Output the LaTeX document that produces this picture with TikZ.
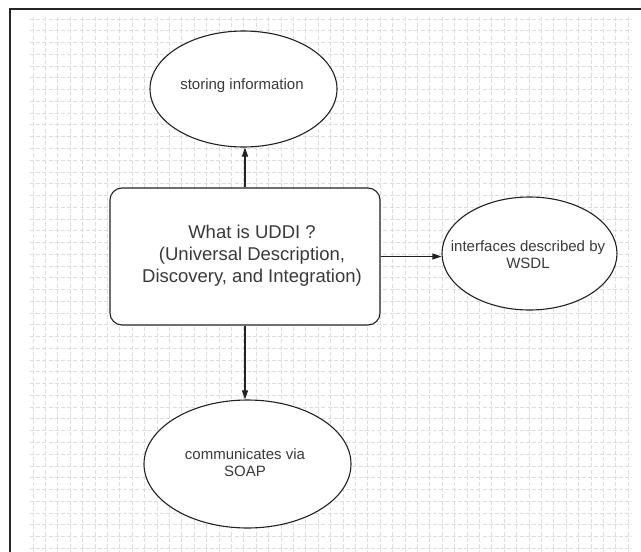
\documentclass[tikz,border=0pt]{standalone}
\usepackage{fontspec}
\setmainfont{Liberation Sans}
\usetikzlibrary{arrows.meta,shapes.geometric}
\definecolor{gridgrey}{HTML}{DDDDDD}
\definecolor{inkdark}{HTML}{222222}
\definecolor{textgrey}{HTML}{3A3A3A}
\tikzset{
  gridline/.style={draw=gridgrey, line width=0.75pt, dash pattern=on 4pt off 2.2pt},
  bubble/.style={ellipse, draw=inkdark, line width=1.1pt, fill=white, inner sep=0pt},
  bubbletext/.style={text=textgrey, font=\fontsize{15}{17}\selectfont, align=center, inner sep=0pt},
  mainbox/.style={rectangle, rounded corners=12pt, draw=inkdark, line width=1.1pt,
    fill=white, minimum width=270pt, minimum height=137pt, inner sep=0pt},
  boxtext/.style={text=textgrey, font=\fontsize{18.5}{22}\selectfont, align=center, inner sep=0pt},
  link/.style={draw=inkdark, line width=1.1pt, -{Triangle[length=9pt,width=6pt]}},
  frameline/.style={draw=black!85, line width=1.4pt}
}
\begin{document}
\begin{tikzpicture}[x=1pt,y=-1pt]
  \useasboundingbox (0,0) rectangle (641,552);
  \fill[white] (0,0) rectangle (641,552);

  % background grid
  \foreach \k in {0,...,48} {
    \draw[gridline] ({33+12.4*\k},17) -- ({33+12.4*\k},552);
  }
  \foreach \k in {0,...,45} {
    \draw[gridline] (30,{19+11.76*\k}) -- (632,{19+11.76*\k});
  }

  % page frame (top and left edges)
  \draw[frameline] (10,552) -- (10,9) -- (641,9);

  % central box
  \node[mainbox] (uddi) at (245,256.5) {};
  \node[boxtext] (uddiText) at (252,256)
    {What is UDDI ?\\ (Universal Description,\\Discovery, and Integration)};

  % surrounding ellipses
  \node[bubble, minimum width=187pt, minimum height=116pt] (store) at (243.5,89) {};
  \node[bubbletext] (storeText) at (242,86) {storing information};

  \node[bubble, minimum width=175pt, minimum height=113pt] (wsdl) at (529.5,253.5) {};
  \node[bubbletext] (wsdlText) at (528,255) {interfaces described by\\WSDL};

  \node[bubble, minimum width=207pt, minimum height=128pt] (soap) at (247.5,464) {};
  \node[bubbletext] (soapText) at (245,463) {communicates via\\SOAP};

  % connectors
  \draw[link] (uddi.north) -- (uddi.north |- store.south);
  \draw[link] (uddi.east) -- (uddi.east -| wsdl.west);
  \draw[link] (uddi.south) -- (uddi.south |- soap.north);
\end{tikzpicture}
\end{document}
